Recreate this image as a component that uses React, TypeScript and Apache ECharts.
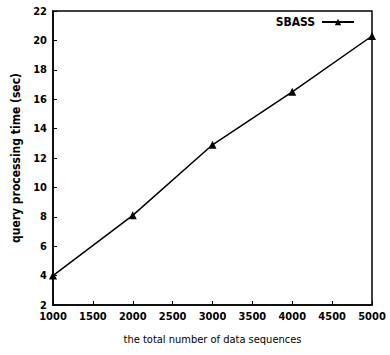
import React, { useEffect, useRef } from "react";
import * as echarts from "echarts";

const xValues = [1000, 2000, 3000, 4000, 5000];
const sbass = [4.0, 8.1, 12.9, 16.5, 20.3];
const seriesName = "SBASS";
const xTitle = "the total number of data sequences";
const yTitle = "query processing time (sec)";

const FONT = "'Liberation Sans Narrow', 'DejaVu Sans Condensed', 'Liberation Sans', Arial, sans-serif";

export default function App() {
  const ref = useRef<HTMLDivElement>(null);
  useEffect(() => {
    if (!ref.current) return;
    const chart = echarts.init(ref.current, null, { renderer: "svg" });
    chart.setOption({
      animation: false,
      backgroundColor: "#fff",
      grid: {
        left: 53,
        right: 18,
        top: 11,
        bottom: 50,
        show: true,
        borderColor: "#000",
        borderWidth: 1.5,
      },
      legend: {
        top: 11,
        right: 30,
        itemWidth: 32,
        itemHeight: 8,
        itemGap: 4,
        align: "right",
        data: [seriesName],
        textStyle: { fontFamily: FONT, fontWeight: "bold", fontSize: 12, color: "#000", padding: [0, 2, 0, 0] },
      },
      xAxis: {
        type: "value",
        min: 1000,
        max: 5000,
        interval: 500,
        name: xTitle,
        nameLocation: "middle",
        nameGap: 29,
        nameTextStyle: { fontFamily: FONT, fontSize: 11, color: "#000" },
        axisLine: { lineStyle: { color: "#000", width: 1.5 } },
        axisTick: { inside: true, length: 4, lineStyle: { color: "#000" } },
        axisLabel: {
          fontFamily: FONT,
          fontWeight: "bold",
          fontSize: 11,
          color: "#000",
          margin: 6,
          formatter: (v: number) => String(v),
        },
        splitLine: { show: false },
      },
      yAxis: {
        type: "value",
        min: 2,
        max: 22,
        interval: 2,
        name: yTitle,
        nameLocation: "middle",
        nameGap: 31,
        nameTextStyle: { fontFamily: FONT, fontWeight: "bold", fontSize: 12, color: "#000" },
        axisLine: { lineStyle: { color: "#000", width: 1.5 } },
        axisTick: { inside: true, length: 4, lineStyle: { color: "#000" } },
        axisLabel: { fontFamily: FONT, fontWeight: "bold", fontSize: 11, color: "#000", margin: 6 },
        splitLine: { show: false },
      },
      series: [
        {
          name: seriesName,
          type: "line",
          data: xValues.map((x, i) => [x, sbass[i]]),
          symbol: "triangle",
          symbolSize: 8,
          showAllSymbol: true,
          lineStyle: { color: "#000", width: 1.5 },
          itemStyle: { color: "#000" },
          clip: false,
        },
      ],
    });
    return () => chart.dispose();
  }, []);
  return <div ref={ref} style={{ width: 390, height: 355, position: "absolute", left: 0, top: 0 }} />;
}
